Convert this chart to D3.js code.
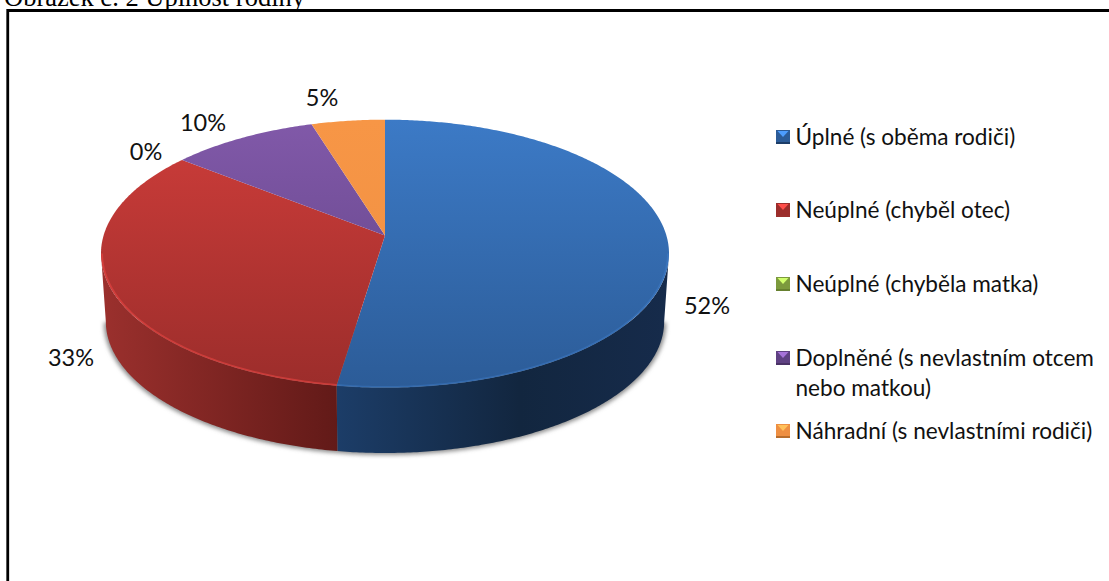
<!DOCTYPE html>
<html><head><meta charset="utf-8">
<script src="https://cdn.jsdelivr.net/npm/d3@7"></script>
<style>html,body{margin:0;padding:0;background:#fff;overflow:hidden}svg{display:block}</style>
</head><body><div id="c"></div>
<script>
const categories=["Úplné (s oběma rodiči)","Neúplné (chyběl otec)","Neúplné (chyběla matka)","Doplněné (s nevlastním otcem nebo matkou)","Náhradní (s nevlastními rodiči)"];
const counts=[11,7,0,2,1];
const percentLabels=["52%","33%","0%","10%","5%"];
const legendLines=[["Úplné (s oběma rodiči)"],["Neúplné (chyběl otec)"],["Neúplné (chyběla matka)"],["Doplněné (s nevlastním otcem","nebo matkou)"],["Náhradní (s nevlastními rodiči)"]];
const topLight=["#3c7ac6","#ce3d3a","#a3cc55","#8159a9","#f79646"];
const topDark=["#2c5c98","#9c2d2b","#7c9a3d","#5f4183","#ee8f42"];
const wallLight=["#1c3d68","#9b302d","#66802f","#4a3266","#b86d2c"];
const wallDark=["#12263f","#621a18","#4a5e22","#33224a","#8a4f1c"];
const rimOpacity=[0.3,0.6,0.6,0.6,0.6];
const W=1109,H=581;
const svg=d3.select("#c").append("svg").attr("width",W).attr("height",H);
const defs=svg.append("defs");
const F="Lato, Carlito, sans-serif";

// caption cut off by the page top, as in the source picture
svg.append("text").attr("x",4).attr("y",6).attr("font-family","'Liberation Serif',serif").attr("font-size",26.5).attr("fill","#000").text("Obrázek č. 2 Úplnost rodiny");
// frame
svg.append("path").attr("d",`M7.75,${H+3}V10.5H${W+3}`).attr("fill","none").attr("stroke","#000").attr("stroke-width",2.8);

// perspective pie
const cx=385,apexY=235.5,k=0.1353,sy=131.5,sx=281.4;
const pie=d3.pie().sort(null).value(d=>d);
const arcs=pie(counts);
function proj(a,s=1,dy=0){const u=Math.sin(a),v=-Math.cos(a),w=1-k*v;return [cx+s*sx*u/w,apexY+dy+s*sy*v/w];}
const line=d3.line();
function samples(a0,a1,s,dy){const n=Math.max(2,Math.ceil(Math.abs(a1-a0)/0.01));return d3.range(n+1).map(i=>proj(a0+(a1-a0)*i/n,s,dy));}

const aRight=Math.PI/2+Math.asin(k), aLeft=2*Math.PI-aRight;
const wallS=0.983, wallDy=68;

const blur=defs.append("filter").attr("id","sh").attr("x","-5%").attr("y","-5%").attr("width","110%").attr("height","110%");
blur.append("feGaussianBlur").attr("stdDeviation",2);
const soft=defs.append("filter").attr("id","soft").attr("x","-5%").attr("y","-5%").attr("width","110%").attr("height","110%");
soft.append("feGaussianBlur").attr("stdDeviation",0.7);

// soft shadow around the lower rim
svg.append("path").attr("d",line(samples(aRight,aLeft,0.99,wallDy+1))+"Z").attr("fill","#8c8c8c").attr("filter","url(#sh)");

// walls
arcs.forEach((d,i)=>{
  const a0=Math.max(d.startAngle,aRight),a1=Math.min(d.endAngle,aLeft);
  if(a1<=a0||d.value===0)return;
  const upper=samples(a0,a1,1,0), lower=samples(a1,a0,wallS,wallDy);
  const g=defs.append("linearGradient").attr("id","w"+i).attr("gradientUnits","userSpaceOnUse")
    .attr("x1",upper[0][0]).attr("x2",upper[upper.length-1][0]).attr("y1",0).attr("y2",0);
  if(i===0){
    g.append("stop").attr("offset",0).attr("stop-color","#162b4b");
    g.append("stop").attr("offset",0.45).attr("stop-color","#12263f");
    g.append("stop").attr("offset",1).attr("stop-color",wallLight[0]);
  }else{
    g.append("stop").attr("offset",0).attr("stop-color",wallDark[i]);
    g.append("stop").attr("offset",1).attr("stop-color",wallLight[i]);
  }
  svg.append("path").attr("d",line(upper.concat(lower))+"Z").attr("fill",`url(#w${i})`);
});

// top face
arcs.forEach((d,i)=>{
  if(d.value===0)return;
  const g=defs.append("linearGradient").attr("id","t"+i).attr("gradientUnits","userSpaceOnUse").attr("x1",0).attr("x2",0).attr("y1",120).attr("y2",386);
  g.append("stop").attr("offset",0).attr("stop-color",topLight[i]);
  g.append("stop").attr("offset",1).attr("stop-color",topDark[i]);
  svg.append("path").attr("d",line([proj(0,0)].concat(samples(d.startAngle,d.endAngle,1,0)))+"Z").attr("fill",`url(#t${i})`);
});

// bevel highlight on the near rim
arcs.forEach((d,i)=>{
  const a0=Math.max(d.startAngle,aRight),a1=Math.min(d.endAngle,aLeft);
  if(a1<=a0||d.value===0)return;
  svg.append("path").attr("d",line(samples(a0,a1,0.996,0))).attr("fill","none").attr("stroke",d3.color(topLight[i]).brighter(0.35)).attr("stroke-width",1.8).attr("opacity",rimOpacity[i]).attr("filter","url(#soft)");
});

// percentage labels
const labelPos=[[707,306],[71,358],[146,152],[203,123],[322,98]];
svg.append("g").selectAll("text").data(percentLabels).join("text")
  .attr("x",(d,i)=>labelPos[i][0]).attr("y",(d,i)=>labelPos[i][1]+8)
  .attr("text-anchor","middle").attr("font-family",F).attr("font-size",23.5).attr("fill","#111").text(d=>d);

// legend
const legendY=[137,210,284,358,431];
const lg=svg.append("g").selectAll("g").data(categories).join("g").attr("transform",(d,i)=>`translate(776,${legendY[i]})`);
lg.each(function(d,i){
  const g=d3.select(this);
  g.append("rect").attr("x",0).attr("y",-7).attr("width",14).attr("height",14).attr("fill",topDark[i]);
  g.append("path").attr("d","M1.5,-6L12.5,-6L7,0Z").attr("fill",d3.color(topLight[i]).brighter(0.7));
  g.append("rect").attr("x",0).attr("y",5).attr("width",14).attr("height",2).attr("fill",wallLight[i]);
  legendLines[i].forEach((t,j)=>g.append("text").attr("x",19.5).attr("y",8+j*30).attr("font-family",F).attr("font-size",22.6).attr("fill","#111").text(t));
});
</script></body></html>
